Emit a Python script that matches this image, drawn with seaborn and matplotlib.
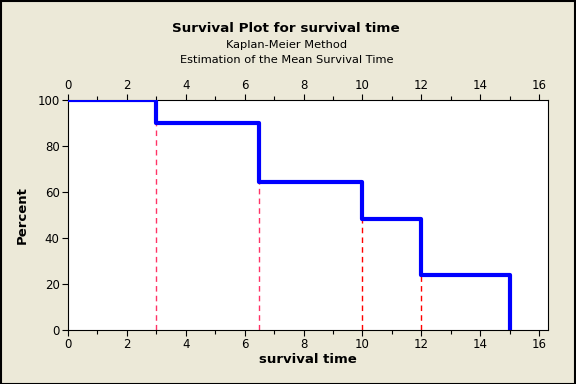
import numpy as np
import matplotlib
matplotlib.use('Agg')
import matplotlib.pyplot as plt
from matplotlib.patches import Rectangle
from matplotlib.ticker import MultipleLocator
import seaborn as sns
import pandas as pd

# Kaplan-Meier steps
times = [0, 3, 6.5, 10, 12, 15]
percent = [100, 90, 64.29, 48.21, 24.11, 0]
# reference drops (time, height) drawn as dashed lines
drop_times = [3, 6.5, 10, 12]
drop_heights = [90, 64.29, 48.21, 24.11]
drop_colors = ['#ff3366', '#ff3366', '#ff0000', '#ff0000']

BG = '#ece9d8'

sns.set_style('white')
plt.rcParams['font.family'] = ['DejaVu Sans']
plt.rcParams['text.color'] = 'black'
plt.rcParams['axes.labelcolor'] = 'black'
plt.rcParams['xtick.color'] = 'black'
plt.rcParams['ytick.color'] = 'black'

fig = plt.figure(figsize=(5.76, 3.84), dpi=100, facecolor=BG)
ax = fig.add_axes([68 / 576, 54 / 384, 480 / 576, 230 / 384])
ax.set_facecolor('white')

df = pd.DataFrame({'time': times, 'percent': percent})
sns.lineplot(data=df, x='time', y='percent', ax=ax, color='#0000ff',
             linewidth=3, drawstyle='steps-post', zorder=3)

for t, h, c in zip(drop_times, drop_heights, drop_colors):
    ax.plot([t, t], [0, h], color=c, linestyle=(0, (4, 3)), linewidth=1, zorder=2)

ax.set_xlim(0, 16.3)
ax.set_ylim(0, 100)
ax.xaxis.set_major_locator(MultipleLocator(2))
ax.xaxis.set_minor_locator(MultipleLocator(1))
ax.yaxis.set_major_locator(MultipleLocator(20))
ax.tick_params(axis='x', which='both', top=True, bottom=True, labeltop=True,
               direction='out', labelsize=8.5, color='black', pad=2)
ax.tick_params(axis='x', which='major', length=4, width=0.8)
ax.tick_params(axis='x', which='minor', length=3, width=0.8)
ax.tick_params(axis='y', left=True, direction='out', length=4, width=0.8,
               labelsize=8.5, pad=2)
for s in ax.spines.values():
    s.set_color('black')
    s.set_linewidth(0.8)

ax.set_xlabel('survival time', fontsize=9.5, fontweight='bold', labelpad=1)
ax.set_ylabel('Percent', fontsize=9.5, fontweight='bold', labelpad=6)

fig.text(0.497, 1 - 28 / 384, 'Survival Plot for survival time', ha='center',
         va='center', fontsize=9.7, fontweight='bold')
fig.text(0.497, 1 - 45 / 384, 'Kaplan-Meier Method', ha='center', va='center', fontsize=8.2)
fig.text(0.497, 1 - 60 / 384, 'Estimation of the Mean Survival Time', ha='center',
         va='center', fontsize=8.2)

fig.patches.append(Rectangle((0.001, 0.001), 0.997, 0.997, transform=fig.transFigure,
                             fill=False, edgecolor='black', linewidth=1.5))

fig.savefig('out.png', dpi=100, facecolor=BG)
